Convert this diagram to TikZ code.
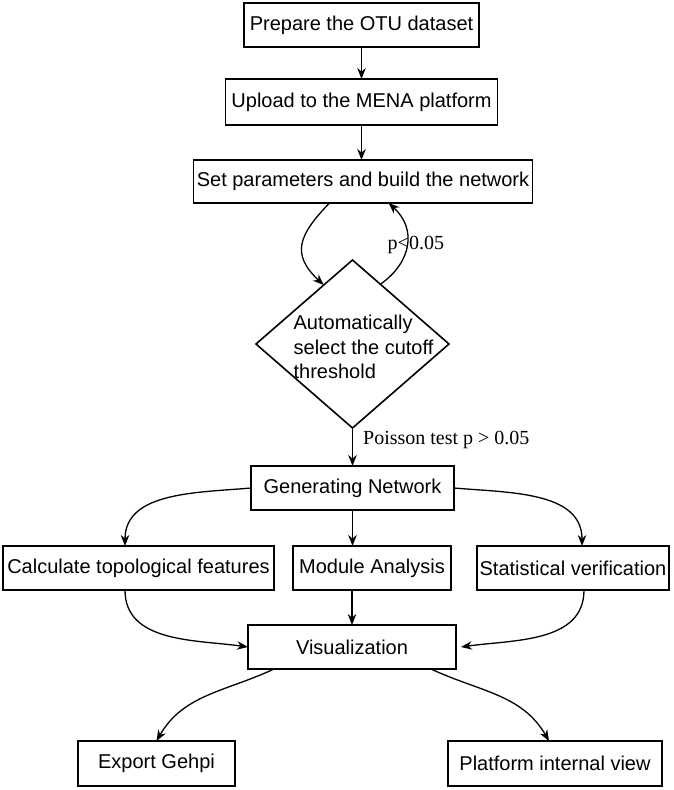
\documentclass[tikz,border=0pt]{standalone}
\usepackage{fontspec}
\setmainfont{Liberation Sans}
\newfontfamily\labelfont{Liberation Serif}
\usetikzlibrary{arrows.meta, positioning, shapes.geometric}

\begin{document}
\begin{tikzpicture}[
  box/.style={draw, line width=1.6pt, align=center, inner sep=2pt, outer sep=0pt,
              minimum height=44pt, font=\fontsize{20}{24}\selectfont},
  dia/.style={draw, diamond, line width=1.6pt, inner sep=0pt, outer sep=0pt,
              minimum width=193pt, minimum height=168pt},
  ar/.style={-{Stealth[length=11pt,width=8.5pt]}, line width=1.3pt},
  lbl/.style={font=\labelfont\fontsize{20}{24}\selectfont, inner sep=0pt}]
\useasboundingbox (0,0) rectangle (673pt,-790pt);
% preparation
\node[box, minimum width=235pt] (prep) at (361.5pt,-25pt) {Prepare the OTU dataset};
\node[box, below=32pt of prep, minimum width=272pt, minimum height=46pt] (upload) {Upload to the MENA platform};
\node[box, below=35pt of upload, xshift=1.5pt, minimum width=339pt, minimum height=43pt] (setp) {Set parameters and build the network};
\draw[ar] (prep) -- (upload);
\draw[ar] (upload.south) -- (upload.south |- setp.north);
% cutoff selection
\node[dia, below=57pt of setp, xshift=-10.5pt] (dia) {};
\node[align=left, inner sep=0pt, font=\fontsize{20}{24.5}\selectfont] (diatxt)
  at ([xshift=11pt,yshift=-3pt]dia.center) {Automatically\\select the cutoff\\threshold};
\draw[ar] ([xshift=-33.5pt]setp.south) to[out=-134, in=137, looseness=1.4] (dia.116);
\draw[ar] (dia.65) to[out=35, in=-42, looseness=1.2]
  node[lbl, pos=0.5, xshift=9pt] (plab) {p<0.05} ([xshift=25.5pt]setp.south);
% network
\node[box, below=38pt of dia, minimum width=203pt] (gen) {Generating Network};
\draw[ar] (dia) -- node[lbl, pos=0.32, right=10pt] (ptest) {Poisson test p > 0.05} (gen);
\node[box, below=36pt of gen, xshift=19.5pt, minimum width=158pt] (modu) {Module Analysis};
\node[box, left=19pt of modu, minimum width=271pt] (calc) {Calculate topological features};
\node[box, right=26pt of modu, minimum width=192pt] (stat) {Statistical verification};
\draw[ar] (gen.west) to[out=-175, in=90] ([xshift=-13.5pt]calc.north);
\draw[ar] (gen.south) -- (gen.south |- modu.north);
\draw[ar] (gen.east) to[out=-5, in=90] ([xshift=9pt]stat.north);
% visualization
\node[box, below=35pt of modu, xshift=-20pt, minimum width=208pt] (vis) {Visualization};
\draw[ar] ([xshift=-13.5pt]calc.south) to[out=-90, in=172] (vis.west);
\draw[ar] (vis.north |- modu.south) -- (vis.north);
\draw[ar] ([xshift=11pt]stat.south) to[out=-90, in=8] ([xshift=5pt]vis.east);
\node[box, below=72pt of vis, xshift=-195.5pt, minimum width=157pt, minimum height=45pt] (expo) {Export Gehpi};
\node[box, below=72pt of vis, xshift=203pt, minimum width=214pt, minimum height=45pt] (plat) {Platform internal view};
\draw[ar] ([xshift=-78pt]vis.south) to[out=-155, in=60] (expo.north);
\draw[ar] ([xshift=79pt]vis.south) to[out=-25, in=120] ([xshift=-6pt]plat.north);
\end{tikzpicture}
\end{document}
